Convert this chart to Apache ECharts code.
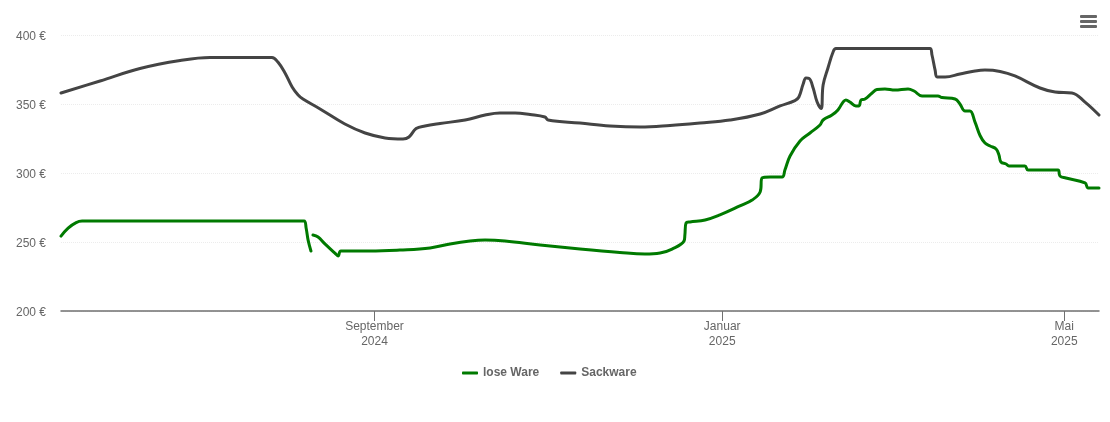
<!DOCTYPE html>
<html><head><meta charset="utf-8">
<style>html,body{margin:0;padding:0;background:#fff}#c{width:1110px;height:422px}</style>
<script src="https://cdn.jsdelivr.net/npm/echarts@6/dist/echarts.min.js"></script>
</head><body><div id="c"></div>
<script>
const startDate = [2024, 4, 14];
const endDay = 364.2;
const tickDays = [110, 232, 352];
const tickLabels = ['September\n2024', 'Januar\n2025', 'Mai\n2025'];
const yTicks = [200, 250, 300, 350, 400];

const sackDays = [0,13.7,27.7,41.8,52.3,74,76.1,78.6,81.1,83.2,84.9,90.9,99.6,106.7,113.7,120,122.1,124.6,127.7,133,141.8,148.8,154,159.3,164.6,169.8,170.9,182.1,192.6,203.2,213.7,224.2,234.7,245.3,252.3,257.5,258.9,260.4,261.4,262.5,263.9,265.3,266.7,267.4,269.1,270.9,271.9,304.9,305.6,306.7,307.4,310.2,315.4,320.7,324.2,329.5,334.7,343.5,348.8,354.7,359.3,364.2];
const sackValues = [358,366.7,375.7,381.5,383.7,383.7,380.4,372.5,362.3,356.5,353.6,346.4,335.5,329,325.4,324.6,326.1,332.2,334.1,335.9,338.4,342,343.5,343.5,342.4,340.6,338.4,336.2,334.1,333.3,334.4,336.2,338.4,342.8,348.6,352.5,355.1,364.5,368.8,368.5,361.6,351.4,346.7,363.8,376.1,387.7,390.2,390.2,385.5,374.6,369.6,369.6,371.7,373.9,374.6,373.6,370.3,361.6,358.7,358,351.4,342];

const looseDays = [0,2.5,5.3,7.4,85.3,86,86.7,87.7,88,88.4,90.2,92.6,96.1,97.2,98.2,108.4,118.9,129.5,136.5,143.5,148.8,155.8,168.1,182.1,196.1,204.9,210.2,214.4,218.6,218.9,219.3,220.7,226,231.2,238.2,242.5,245.3,246,248.8,253,254,255.8,259.3,262.8,266.3,267.4,270.5,272.6,274.4,275.4,276.8,278.9,280,280.7,282.1,284.6,286.3,289.1,292.6,297.2,299.3,302.1,307.7,309.1,313.7,315.4,317.2,318.9,320.7,322.5,324.2,326,328.1,329.1,329.8,331.6,332.6,338.2,339.3,349.8,350.5,352.6,359.3,360.4,364.2];
const looseValues = [254.3,260.1,264.1,265.2,265.2,260.1,251.4,243.5,null,255.1,253.6,248.6,242,239.9,243.5,243.5,244.2,245.7,248.6,250.7,251.4,250.7,247.8,244.9,242.4,241.3,242,244.9,250.7,255.1,263.8,264.5,265.9,269.6,276.1,280.4,286.2,296.4,297.1,297.1,302.2,312.3,323.2,329,334.8,338.4,342,345.7,351.4,352.9,351.4,348.6,348.6,352.9,353.6,358,360.5,360.9,360.1,360.9,359.4,355.8,355.8,354.7,353.6,350,344.9,344.9,336.9,327,321.7,319.6,317.4,313,308,306.5,305.1,305.1,302.2,302.2,297.8,296.4,292.8,289.1,289.1];

const DAY = 86400000;
const t0 = new Date(startDate[0], startDate[1], startDate[2]).getTime();
const toTime = d => t0 + d * DAY;
const zip = (ds, vs) => ds.map((d, i) => [toTime(d), vs[i]]);
const tickTimes = tickDays.map(toTime);
const font = '"Liberation Sans", Arial, sans-serif';

const chart = echarts.init(document.getElementById('c'), null, {renderer: 'canvas'});
const lineSeries = (name, color, data) => ({
  name, type: 'line', data, showSymbol: false, symbol: 'none', smooth: 0.4,
  connectNulls: false, lineStyle: {width: 3, color, cap: 'round', join: 'round'}, itemStyle: {color}, animation: false
});
chart.setOption({
  animation: false,
  backgroundColor: '#fff',
  grid: {left: 61, right: 11, top: 35, bottom: 111, containLabel: false},
  legend: {
    top: 362, left: 457, itemWidth: 16, itemHeight: 3, itemGap: 21, icon: 'roundRect',
    textStyle: {fontFamily: font, fontSize: 12, fontWeight: 'bold', color: '#666'},
    data: ['lose Ware', 'Sackware']
  },
  xAxis: {
    type: 'value', min: toTime(0), max: toTime(endDay), scale: true,
    axisLine: {lineStyle: {color: '#707070', width: 1.5}},
    axisTick: {show: true, customValues: tickTimes, length: 10, lineStyle: {color: '#707070', width: 1}},
    axisLabel: {
      customValues: tickTimes, color: '#666', fontFamily: font, fontSize: 12, lineHeight: 15, margin: 8,
      hideOverlap: false, showMinLabel: true, showMaxLabel: true,
      formatter: v => tickLabels[tickTimes.indexOf(v)] || ''
    },
    splitLine: {show: false}
  },
  yAxis: {
    type: 'value', min: yTicks[0], max: yTicks[yTicks.length - 1], interval: 50,
    axisLine: {show: false}, axisTick: {show: false},
    axisLabel: {color: '#666', fontFamily: font, fontSize: 12, margin: 15, verticalAlign: 'top', lineHeight: 4, formatter: v => v + ' €'},
    splitLine: {lineStyle: {color: '#ececec', width: 1, type: 'dotted'}}
  },
  series: [
    lineSeries('lose Ware', '#007a00', zip(looseDays, looseValues)),
    lineSeries('Sackware', '#444444', zip(sackDays, sackValues))
  ],
  graphic: [15, 20, 25].map(y => ({
    type: 'rect', left: 1080, top: y,
    shape: {width: 17, height: 3, r: 1}, style: {fill: '#666'}
  }))
});
</script></body></html>
